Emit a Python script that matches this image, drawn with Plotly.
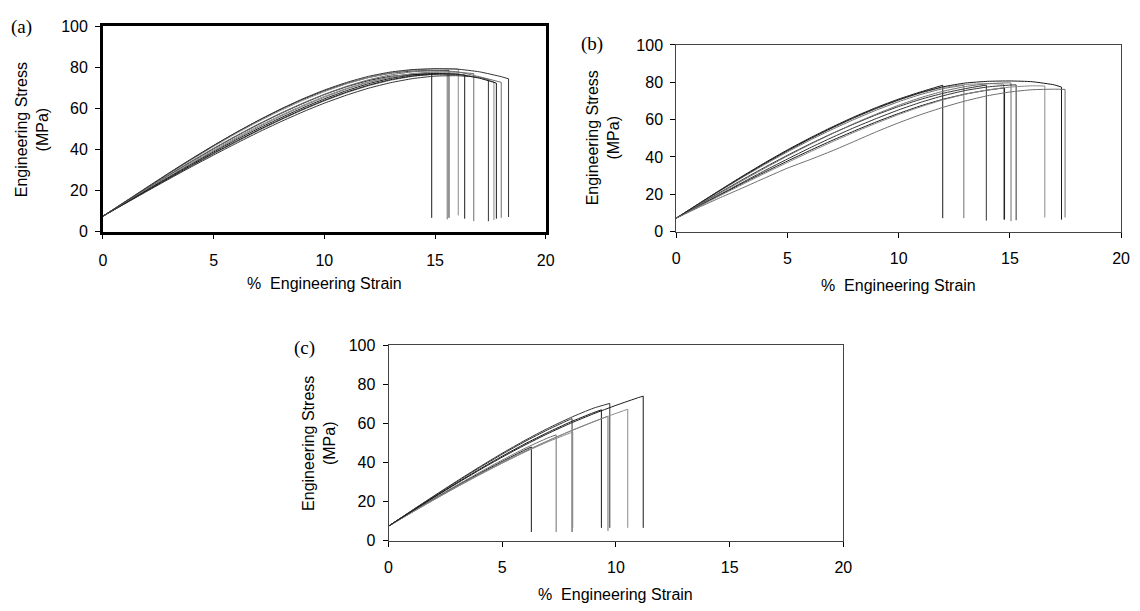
import plotly.graph_objects as go

# ---------------- data ----------------
STRAIN_GRID = list(range(0, 21))  # % engineering strain grid

# Panel (a): stress values at grid points up to failure, failure strain, stress at failure, end stress
A_VALUES = [
    [7.5, 14.2, 20.9, 27.6, 34.1, 40.4, 46.4, 52.1, 57.4, 62.3, 66.8, 70.6, 73.6, 75.7, 76.6],
    [7.5, 13.7, 19.9, 26.0, 32.0, 37.9, 43.6, 49.1, 54.3, 59.2, 63.7, 67.7, 71.1, 73.8, 75.7, 76.8],
    [7.5, 14.6, 21.7, 28.7, 35.5, 42.0, 48.2, 54.0, 59.4, 64.3, 68.6, 72.2, 75.1, 77.2, 78.3, 78.5],
    [7.5, 14.4, 21.4, 28.3, 35.0, 41.5, 47.7, 53.5, 58.9, 63.8, 68.2, 72.0, 75.1, 77.4, 78.8, 79.3, 79.3],
    [7.5, 13.8, 20.0, 26.2, 32.3, 38.2, 43.9, 49.4, 54.6, 59.5, 64.0, 68.0, 71.4, 74.1, 75.9, 76.7, 76.7],
    [7.5, 14.0, 20.5, 26.9, 33.2, 39.3, 45.2, 50.8, 56.1, 61.0, 65.5, 69.5, 72.8, 75.3, 77.0, 77.8, 77.7],
    [7.5, 13.6, 19.7, 25.7, 31.6, 37.3, 42.9, 48.3, 53.4, 58.2, 62.6, 66.5, 69.9, 72.6, 74.6, 75.8, 76.0, 75.2],
    [7.5, 14.1, 20.7, 27.2, 33.6, 39.8, 45.7, 51.3, 56.5, 61.4, 65.9, 69.8, 73.0, 75.4, 76.9, 77.4, 76.9, 75.0],
    [7.5, 13.9, 20.3, 26.6, 32.8, 38.8, 44.6, 50.1, 55.3, 60.2, 64.7, 68.7, 72.1, 74.7, 76.4, 77.1, 76.7, 74.8],
    [7.5, 14.3, 21.1, 27.8, 34.3, 40.6, 46.6, 52.3, 57.6, 62.5, 66.9, 70.8, 74.0, 76.4, 77.9, 78.4, 77.9, 75.5],
    [7.5, 14.5, 21.5, 28.5, 35.3, 41.9, 48.2, 54.1, 59.6, 64.6, 69.0, 72.7, 75.7, 77.8, 79.0, 79.4, 79.2, 77.9, 75.5],
]
A_BREAK = [14.85, 15.55, 15.63, 16.05, 16.34, 16.75, 17.41, 17.66, 17.77, 17.99, 18.32]
A_TOP = [76.8, 77.2, 78.6, 79.2, 76.4, 77.0, 74.2, 73.0, 72.4, 72.8, 74.5]
A_END = [6.7, 6.0, 6.7, 7.9, 6.3, 5.1, 5.1, 5.6, 6.3, 6.7, 7.1]

# Panel (b)
B_VALUES = [
    [7.2, 14.9, 22.5, 29.9, 37.0, 43.8, 50.1, 56.0, 61.5, 66.5, 71.0, 74.9],
    [7.2, 14.6, 22.0, 29.2, 36.1, 42.7, 48.9, 54.7, 60.1, 65.1, 69.6, 73.5, 76.6],
    [7.2, 14.2, 21.2, 28.0, 34.6, 40.9, 46.9, 52.5, 57.7, 62.6, 67.0, 70.9, 74.1, 76.6],
    [7.2, 14.7, 22.2, 29.5, 36.5, 43.2, 49.5, 55.4, 60.9, 65.9, 70.4, 74.3, 77.2, 78.8, 79.3],
    [7.2, 13.5, 19.8, 26.0, 32.0, 37.8, 43.4, 48.8, 53.9, 58.8, 63.3, 67.4, 70.9, 73.7, 75.8],
    [7.2, 14.0, 20.8, 27.5, 34.1, 40.5, 46.6, 52.4, 57.9, 63.0, 67.7, 71.8, 75.2, 77.7, 79.2, 79.7],
    [7.2, 13.7, 20.1, 26.5, 32.8, 38.9, 44.8, 50.4, 55.7, 60.6, 65.2, 69.3, 72.8, 75.6, 77.5, 78.5],
    [7.2, 13.3, 19.4, 25.4, 31.3, 37.0, 42.6, 48.0, 53.2, 58.1, 62.7, 66.9, 70.6, 73.6, 75.9, 77.4, 78.1],
    [7.2, 14.8, 22.3, 29.6, 36.7, 43.4, 49.7, 55.6, 61.1, 66.1, 70.6, 74.5, 77.6, 79.6, 80.5, 80.7, 80.3, 78.6],
    [7.2, 12.9, 18.3, 23.5, 28.8, 34.0, 38.5, 43.2, 48.3, 53.5, 58.3, 62.7, 66.6, 70.0, 72.8, 74.8, 76.0, 76.3],
]
B_BREAK = [11.98, 12.93, 13.94, 14.72, 14.76, 15.05, 15.28, 16.57, 17.32, 17.48]
B_TOP = [78.4, 78.4, 78.5, 79.0, 77.0, 79.6, 78.6, 78.0, 77.4, 76.2]
B_END = [7.2, 7.2, 5.9, 6.4, 6.4, 5.6, 6.1, 7.6, 6.4, 7.6]

# Panel (c)
C_VALUES = [
    [7.5, 14.5, 21.4, 28.1, 34.5, 40.6, 46.5],
    [7.5, 14.6, 21.6, 28.4, 35.0, 41.3, 47.3, 52.6],
    [7.5, 15.2, 22.8, 30.2, 37.4, 44.3, 50.8, 56.8, 62.2],
    [7.5, 14.3, 21.0, 27.5, 33.7, 39.7, 45.4, 50.6, 55.2],
    [7.5, 15.0, 22.4, 29.6, 36.6, 43.3, 49.6, 55.4, 60.8, 65.5],
    [7.5, 14.4, 21.2, 27.8, 34.1, 40.1, 45.8, 51.1, 56.1, 60.8],
    [7.5, 15.3, 23.0, 30.5, 37.8, 44.8, 51.4, 57.5, 63.0, 67.8],
    [7.5, 14.3, 21.0, 27.5, 33.8, 39.8, 45.6, 51.1, 56.2, 60.9, 65.2],
    [7.5, 14.9, 22.2, 29.3, 36.2, 42.8, 49.0, 54.8, 60.1, 64.9, 69.3, 73.3],
]
C_BREAK = [6.28, 7.37, 8.07, 8.10, 9.36, 9.65, 9.73, 10.52, 11.20]
C_TOP = [48.0, 54.2, 62.5, 55.6, 67.0, 63.7, 70.3, 67.3, 74.0]
C_END = [4.5, 4.5, 4.5, 6.6, 6.6, 5.0, 6.6, 6.6, 6.6]

X_TICKS = [0, 5, 10, 15, 20]
Y_TICKS = [0, 20, 40, 60, 80, 100]
PANEL_LABELS = ["(a)", "(b)", "(c)"]
Y_TITLE = "Engineering Stress<br>(MPa)"
X_TITLE = "%\u00a0 Engineering Strain"

# ---------------- figure ----------------
W, H = 1140, 611
LINE_COLORS = ["#1a1a1a", "#6e6e6e", "#333333", "#8a8a8a"]


def px_x(p):
    return p / W


def px_y(p):
    return 1 - p / H


fig = go.Figure()

panels = [
    (A_VALUES, A_BREAK, A_TOP, A_END, "x", "y"),
    (B_VALUES, B_BREAK, B_TOP, B_END, "x2", "y2"),
    (C_VALUES, C_BREAK, C_TOP, C_END, "x3", "y3"),
]
for vals_list, brks, tops, ends, xa, ya in panels:
    for i, (vals, brk, top, end) in enumerate(zip(vals_list, brks, tops, ends)):
        col = LINE_COLORS[i % len(LINE_COLORS)]
        # loading curve (smooth) up to failure
        fig.add_trace(
            go.Scatter(
                x=STRAIN_GRID[: len(vals)] + [brk], y=list(vals) + [top],
                mode="lines", xaxis=xa, yaxis=ya,
                line=dict(color=col, width=1, shape="spline", smoothing=0.5),
                showlegend=False, hoverinfo="skip",
            )
        )
        # vertical drop at failure
        fig.add_trace(
            go.Scatter(
                x=[brk, brk], y=[top, end], mode="lines", xaxis=xa, yaxis=ya,
                line=dict(color=col, width=1),
                showlegend=False, hoverinfo="skip",
            )
        )

tickfont = dict(family="Arial, Liberation Sans, sans-serif", size=16, color="black")


def axis_common(domain, lw, lc, tickvals, rng, anchor):
    return dict(
        domain=domain, range=rng, tickvals=tickvals, ticks="outside", ticklen=5,
        tickwidth=1, tickcolor="black", showline=True, linewidth=lw, linecolor=lc,
        mirror=True, showgrid=False, zeroline=False, tickfont=tickfont, anchor=anchor,
        ticklabelstandoff=4,
    )


# pixel boxes: left, right, top, bottom
boxes = {
    "a": (100, 548, 19, 230),
    "b": (680, 1130, 38, 230),
    "c": (389, 849, 347, 548),
}


def dom(box):
    l, r, t, b = box
    return [px_x(l), px_x(r)], [px_y(b), px_y(t)]


xa_d, ya_d = dom(boxes["a"])
xb_d, yb_d = dom(boxes["b"])
xc_d, yc_d = dom(boxes["c"])

fig.update_layout(
    width=W, height=H, margin=dict(l=0, r=0, t=0, b=0),
    paper_bgcolor="white", plot_bgcolor="white",
    xaxis=axis_common(xa_d, 2.5, "black", X_TICKS, [0, 20], "y"),
    yaxis=axis_common(ya_d, 2.5, "black", Y_TICKS, [0, 100], "x"),
    xaxis2=axis_common(xb_d, 1, "#444444", X_TICKS, [0, 20], "y2"),
    yaxis2=axis_common(yb_d, 1, "#444444", Y_TICKS, [0, 100], "x2"),
    xaxis3=axis_common(xc_d, 1, "#444444", X_TICKS, [0, 20], "y3"),
    yaxis3=axis_common(yc_d, 1, "#444444", Y_TICKS, [0, 100], "x3"),
)
for ax in ["xaxis", "xaxis2", "xaxis3"]:
    fig.layout[ax].ticklabelstandoff = 7

titlefont = dict(family="Arial, Liberation Sans, sans-serif", size=16, color="black")
labelfont = dict(family="Times New Roman, Liberation Serif, serif", size=19, color="black")

annots = []
# y titles (pixel centers)
for (cx, cy) in [(28, 125), (606, 134), (318, 448)]:
    annots.append(dict(text=Y_TITLE, x=px_x(cx), y=px_y(cy), xref="paper", yref="paper",
                       textangle=-90, showarrow=False, font=titlefont,
                       xanchor="center", yanchor="middle"))
# x titles
for (cx, cy) in [(324, 283), (905, 285), (619, 603)]:
    annots.append(dict(text=X_TITLE, x=px_x(cx), y=px_y(cy), xref="paper", yref="paper",
                       showarrow=False, font=titlefont, xanchor="center", yanchor="middle"))
# panel labels
for lab, (cx, cy) in zip(PANEL_LABELS, [(18, 20), (595, 37), (304, 350)]):
    annots.append(dict(text=lab, x=px_x(cx), y=px_y(cy), xref="paper", yref="paper",
                       showarrow=False, font=labelfont, xanchor="center", yanchor="middle"))
fig.update_layout(annotations=annots)

fig.write_html("out.html")
